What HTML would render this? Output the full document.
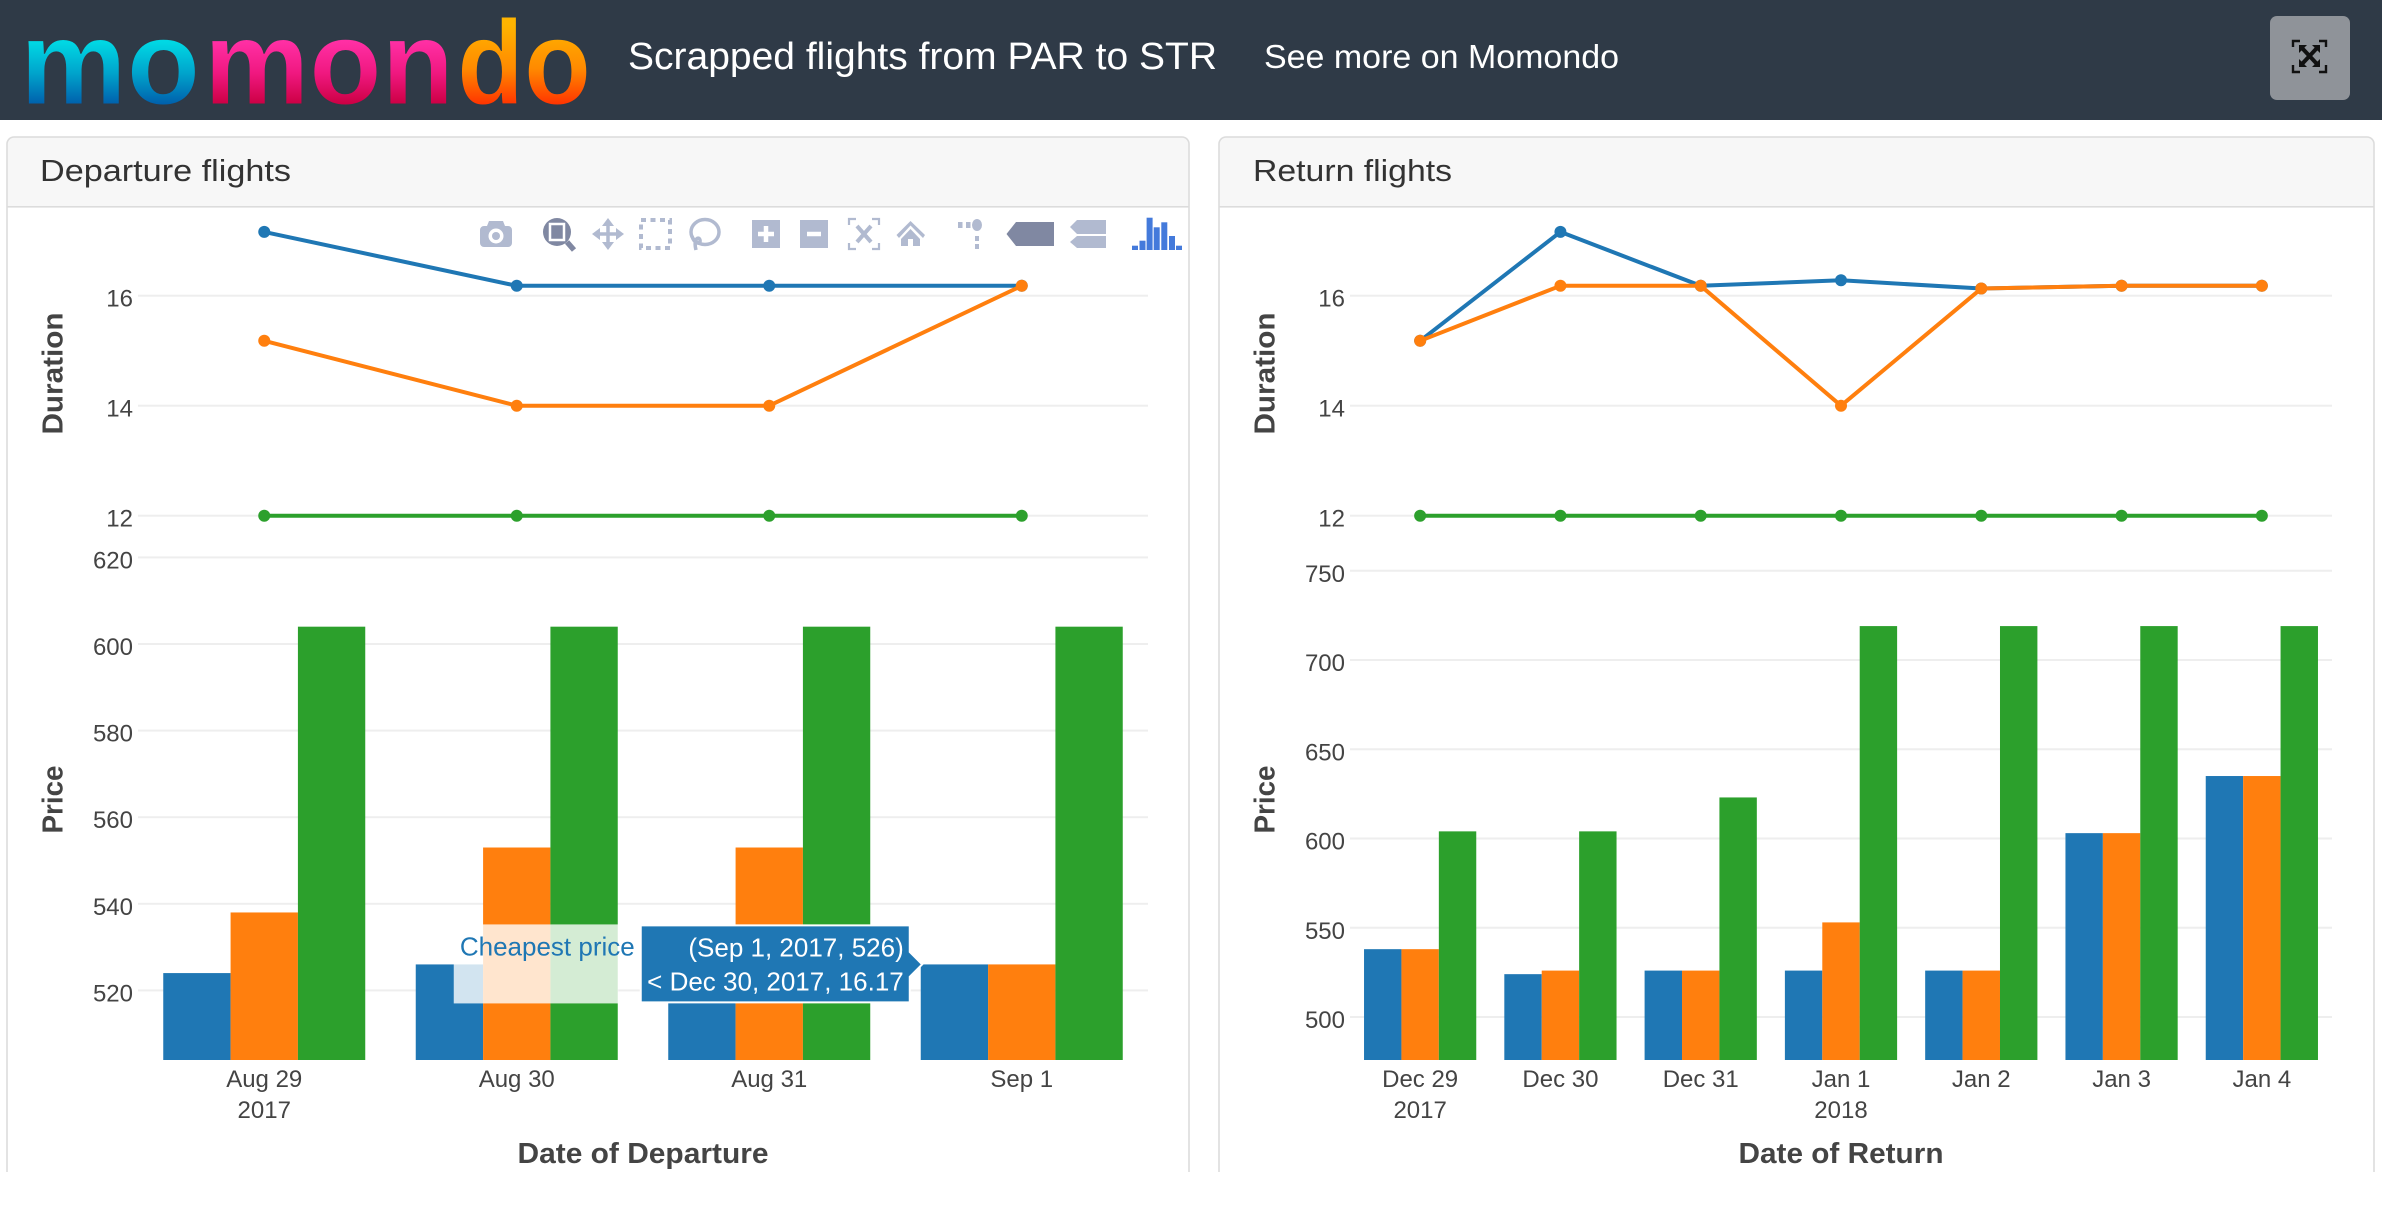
<!DOCTYPE html>
<html lang="en">
<head>
<meta charset="utf-8">
<title>Scrapped flights from PAR to STR</title>
<style>
html,body{margin:0;padding:0;background:#fff;width:2382px;height:1210px;overflow:hidden}
svg{display:block;position:absolute;left:0;top:0}
text{font-family:"Liberation Sans",Arial,sans-serif}
.ic{fill:#b1bad0}
.icd{fill:#8088a2}
</style>
</head>
<body>
<svg id="page" xmlns="http://www.w3.org/2000/svg" width="2382" height="1210" viewBox="0 0 2382 1210">
  <defs>
    <linearGradient id="g-mo" gradientUnits="userSpaceOnUse" x1="0" y1="42" x2="0" y2="104"><stop offset="0" stop-color="#00d8e4"/><stop offset="0.5" stop-color="#00a4cc"/><stop offset="1" stop-color="#0060ac"/></linearGradient>
    <linearGradient id="g-mon" gradientUnits="userSpaceOnUse" x1="0" y1="42" x2="0" y2="104"><stop offset="0" stop-color="#ff2fa4"/><stop offset="0.5" stop-color="#f01880"/><stop offset="1" stop-color="#cc0044"/></linearGradient>
    <linearGradient id="g-do" gradientUnits="userSpaceOnUse" x1="0" y1="25" x2="0" y2="104"><stop offset="0" stop-color="#ffb400"/><stop offset="0.55" stop-color="#ff8a00"/><stop offset="1" stop-color="#ff3500"/></linearGradient>
  </defs>

  <g>
    <rect x="0" y="0" width="2382" height="120" fill="#2f3a47"/>
    <g font-weight="700" font-size="120" stroke="#2f3a47" stroke-width="1" paint-order="fill">
      <text x="20" y="104" textLength="180" lengthAdjust="spacingAndGlyphs" fill="url(#g-mo)">mo</text>
      <text x="204" y="104" textLength="250" lengthAdjust="spacingAndGlyphs" fill="url(#g-mon)">mon</text>
      <text x="457" y="104" textLength="134" lengthAdjust="spacingAndGlyphs" fill="url(#g-do)">do</text>
    </g>
    <text x="628" y="69" font-size="38" fill="#fff" textLength="589" lengthAdjust="spacingAndGlyphs">Scrapped flights from PAR to STR</text>
    <text x="1264" y="68" font-size="33" fill="#fff" textLength="355" lengthAdjust="spacingAndGlyphs">See more on Momondo</text>
    <g>
      <rect x="2270" y="16" width="80" height="84" rx="7" fill="#8f9399"/>
      <g transform="translate(2293 40)" fill="none" stroke="#111">
        <path stroke-width="2.4" d="M0 7V1H7M26 1H33V7M33 25V32H26M7 32H0V25"/>
        <path stroke-width="4" d="M9 8L24 24M24 8L9 24"/>
        <path stroke="none" fill="#111" d="M6 5H14L6 13ZM27 5V13L19 5ZM27 27H19L27 19ZM6 27V19L14 27Z"/>
      </g>
    </g>
  </g>

  <g>
    <path d="M7 207V144a7 7 0 0 1 7-7H1182a7 7 0 0 1 7 7V207Z" fill="#f7f7f7"/>
    <path d="M7 1172V144a7 7 0 0 1 7-7H1182a7 7 0 0 1 7 7V1172" fill="none" stroke="#dcdcdc" stroke-width="1.6"/>
    <rect x="7" y="206" width="1182" height="1.6" fill="#dcdcdc"/>
    <text x="40" y="181" font-size="31" fill="#333" textLength="251" lengthAdjust="spacingAndGlyphs">Departure flights</text>
  </g>

  <g>
    <path d="M1219 207V144a7 7 0 0 1 7-7H2367a7 7 0 0 1 7 7V207Z" fill="#f7f7f7"/>
    <path d="M1219 1172V144a7 7 0 0 1 7-7H2367a7 7 0 0 1 7 7V1172" fill="none" stroke="#dcdcdc" stroke-width="1.6"/>
    <rect x="1219" y="206" width="1155" height="1.6" fill="#dcdcdc"/>
    <text x="1253" y="181" font-size="31" fill="#333" textLength="199" lengthAdjust="spacingAndGlyphs">Return flights</text>
  </g>

  <g id="departure-chart"></g>
  <g id="return-chart"></g>

  <g>
    <g>
      <path class="ic" d="M480 230a4 4 0 0 1 4-4h3l2-5h14l2 5h3a4 4 0 0 1 4 4v13a4 4 0 0 1-4 4H484a4 4 0 0 1-4-4Z"/>
      <circle cx="496" cy="236" r="7.5" fill="#fff"/><circle cx="496" cy="236" r="4" class="ic"/>
    </g>
    <g>
      <path d="M567 242L574 250" stroke="#8088a2" stroke-width="5.5" fill="none"/>
      <circle cx="557" cy="232" r="14" class="icd"/>
      <rect x="550" y="224" width="14" height="16" fill="#8088a2" stroke="#fff" stroke-width="2.5"/>
    </g>
    <g>
      <path d="M608 222V246M596 234H620" stroke="#b1bad0" stroke-width="3.5" fill="none"/>
      <path class="ic" d="M608 218L614 226H602ZM608 250L614 242H602ZM592 234L600 228V240ZM624 234L616 228V240Z"/>
    </g>
    <rect x="641" y="220" width="29" height="28" fill="none" stroke="#b1bad0" stroke-width="4" stroke-dasharray="5 4.5"/>
    <g fill="none" stroke="#b1bad0" stroke-width="3.5">
      <ellipse cx="705" cy="232" rx="14" ry="12.5"/>
      <path d="M692 236C694 244 701 245 700 240C699 236 693 238 696 250"/>
    </g>
    <g>
      <rect class="ic" x="752" y="220" width="28" height="28"/>
      <path d="M766 226V242M758 234H774" stroke="#fff" stroke-width="4.5"/>
    </g>
    <g>
      <rect class="ic" x="800" y="220" width="28" height="28"/>
      <path d="M807 234H821" stroke="#fff" stroke-width="4.5"/>
    </g>
    <g fill="none" stroke="#b1bad0">
      <path stroke-width="2.2" d="M849 225V219H856M872 219H879V225M879 243V249H872M856 249H849V243"/>
      <path stroke-width="4" d="M857 226L871 242M871 226L857 242"/>
    </g>
    <g>
      <path class="ic" d="M910.5 221L925 235L923 238L910.5 225.5L899 238L896.5 235ZM901 239L910.5 229L920 239V246H913V239H908V246H901Z"/>
    </g>
    <g>
      <rect class="ic" x="958" y="222" width="4.5" height="6"/><rect class="ic" x="966" y="222" width="4.5" height="6"/>
      <ellipse class="ic" cx="977" cy="225" rx="5" ry="6"/>
      <rect class="ic" x="975" y="236" width="4" height="5"/><rect class="ic" x="975" y="244" width="4" height="5"/>
    </g>
    <path class="icd" d="M1006.5 234L1016 222H1054V246H1016Z"/>
    <g>
      <path class="ic" d="M1070 227L1077 220H1106V234H1077Z"/>
      <path class="ic" d="M1070 242L1077 236H1106V248H1077Z"/>
    </g>
    <g fill="#447adb">
      <rect x="1132" y="245.7" width="6" height="4.3"/><rect x="1139.5" y="240.7" width="6" height="9.3"/>
      <rect x="1146.6" y="217.7" width="6" height="32.3"/><rect x="1153.7" y="227.3" width="6" height="22.7"/>
      <rect x="1161.3" y="222.3" width="6" height="27.7"/><rect x="1169" y="236" width="6" height="14"/>
      <rect x="1176" y="245.7" width="6" height="4.3"/>
    </g>
  </g>

  <g id="hover-layer"></g>
</svg>

<script>
// ---------- Departure chart data ----------
const depCategories = ['Aug 29', 'Aug 30', 'Aug 31', 'Sep 1'];
const depSubLabels = ['2017', '', '', ''];
const depDurationBlue = [17.16, 16.18, 16.18, 16.18];
const depDurationOrange = [15.18, 14, 14, 16.18];
const depDurationGreen = [12, 12, 12, 12];
const depPriceBlue = [524, 526, 526, 526];
const depPriceOrange = [538, 553, 553, 526];
const depPriceGreen = [604, 604, 604, 604];
const depPriceTicks = [620, 600, 580, 560, 540, 520];

// ---------- Return chart data ----------
const retCategories = ['Dec 29', 'Dec 30', 'Dec 31', 'Jan 1', 'Jan 2', 'Jan 3', 'Jan 4'];
const retSubLabels = ['2017', '', '', '2018', '', '', ''];
const retDurationBlue = [15.18, 17.16, 16.18, 16.28, 16.13, 16.18, 16.18];
const retDurationOrange = [15.18, 16.18, 16.18, 14, 16.13, 16.18, 16.18];
const retDurationGreen = [12, 12, 12, 12, 12, 12, 12];
const retPriceBlue = [538, 524, 526, 526, 526, 603, 635];
const retPriceOrange = [538, 526, 526, 553, 526, 603, 635];
const retPriceGreen = [604, 604, 623, 719, 719, 719, 719];
const retPriceTicks = [750, 700, 650, 600, 550, 500];

const durationTicks = [16, 14, 12];
const seriesColors = ['#1f77b4', '#ff7f0e', '#2ca02c'];
const seriesNames = ['blue', 'orange', 'green'];

// ---------- Hover annotation data ----------
const hoverLabel = 'Cheapest price';
const hoverLineOne = '(Sep 1, 2017, 526)';
const hoverLineTwo = '< Dec 30, 2017, 16.17';
const hoverPrice = 526;

const NS = 'http://www.w3.org/2000/svg';
function mk(parent, tag, attrs, txt) {
  const n = document.createElementNS(NS, tag);
  for (const k in attrs) n.setAttribute(k, attrs[k]);
  if (txt !== undefined) n.textContent = txt;
  parent.appendChild(n);
  return n;
}

const PRICE_BOTTOM = 1060;
function durationY(v) { return 295.7 - 55 * (v - 16); }

function drawChart(root, o) {
  const step = (o.right - o.left) / o.categories.length;
  const xOf = i => o.left + step * (i + 0.5);
  const barW = step * 0.8 / 3;

  durationTicks.forEach(t => {
    const g = mk(root, 'rect', {x: o.left, y: durationY(t) - 1, width: o.right - o.left, height: 2, fill: '#eeeeee'});
    
    
    const l = mk(root, 'text', {x: o.left - 5, y: durationY(t) + 11, 'font-size': 24, fill: '#444', 'text-anchor': 'end'}, String(t));
    
    
  });
  o.priceTicks.forEach(t => {
    const g = mk(root, 'rect', {x: o.left, y: o.priceY(t) - 1, width: o.right - o.left, height: 2, fill: '#eeeeee'});
    
    
    const l = mk(root, 'text', {x: o.left - 5, y: o.priceY(t) + 11, 'font-size': 24, fill: '#444', 'text-anchor': 'end'}, String(t));
    
    
  });

  o.priceSeries.forEach((vals, s) => {
    vals.forEach((v, i) => {
      const top = o.priceY(v);
      const r = mk(root, 'rect', {x: xOf(i) - 1.5 * barW + s * barW, y: top, width: barW, height: PRICE_BOTTOM - top, fill: seriesColors[s]});
      
      
    });
  });

  o.durationSeries.forEach((vals, s) => {
    const pl = mk(root, 'polyline', {points: vals.map((v, i) => xOf(i) + ',' + durationY(v)).join(' '), fill: 'none', stroke: seriesColors[s], 'stroke-width': 4, 'stroke-linejoin': 'round'});
    
    
    vals.forEach((v, i) => {
      const c = mk(root, 'circle', {cx: xOf(i), cy: durationY(v), r: 6, fill: seriesColors[s]});
      
      
    });
  });

  o.categories.forEach((c, i) => {
    const t = mk(root, 'text', {x: xOf(i), y: 1087, 'font-size': 24, fill: '#444', 'text-anchor': 'middle'}, c);
    
    
    if (o.subLabels[i]) {
      const t2 = mk(root, 'text', {x: xOf(i), y: 1118, 'font-size': 24, fill: '#444', 'text-anchor': 'middle'}, o.subLabels[i]);
      
      
    }
  });

  const bx = o.left - 75.7;
  const dt = mk(root, 'text', {transform: 'translate(' + bx + ' 373.5) rotate(-90)', 'font-size': 29, 'font-weight': 700, fill: '#444', 'text-anchor': 'middle', textLength: 122, lengthAdjust: 'spacingAndGlyphs'}, 'Duration');
  
  
  const pt = mk(root, 'text', {transform: 'translate(' + bx + ' 799.5) rotate(-90)', 'font-size': 29, 'font-weight': 700, fill: '#444', 'text-anchor': 'middle', textLength: 68, lengthAdjust: 'spacingAndGlyphs'}, 'Price');
  
  
  const xt = mk(root, 'text', {x: (o.left + o.right) / 2, y: 1163, 'font-size': 29, 'font-weight': 700, fill: '#444', 'text-anchor': 'middle', textLength: o.xTitleWidth, lengthAdjust: 'spacingAndGlyphs'}, o.xTitle);
  
  

  return {xOf, barW};
}

function depPriceY(v) { return 990.4 - 4.33 * (v - 520); }
function retPriceY(v) { return 1017 - 1.785 * (v - 500); }

const depAxes = drawChart(document.getElementById('departure-chart'), {
  left: 138, right: 1148,
  categories: depCategories, subLabels: depSubLabels,
  priceTicks: depPriceTicks, priceY: depPriceY,
  priceSeries: [depPriceBlue, depPriceOrange, depPriceGreen],
  durationSeries: [depDurationBlue, depDurationOrange, depDurationGreen],
  xTitle: 'Date of Departure', xTitleWidth: 251
});

drawChart(document.getElementById('return-chart'), {
  left: 1350, right: 2332,
  categories: retCategories, subLabels: retSubLabels,
  priceTicks: retPriceTicks, priceY: retPriceY,
  priceSeries: [retPriceBlue, retPriceOrange, retPriceGreen],
  durationSeries: [retDurationBlue, retDurationOrange, retDurationGreen],
  xTitle: 'Date of Return', xTitleWidth: 205
});

// ---------- Hover tooltip, anchored to the hovered bar ----------
const hover = document.getElementById('hover-layer');
const tipX = depAxes.xOf(3) - 1.5 * depAxes.barW;
const tipY = depPriceY(hoverPrice);

const labelBox = mk(hover, 'rect', {x: tipX - 467, y: tipY - 40, width: 164.5, height: 79, fill: '#fff', 'fill-opacity': 0.8});



const labelText = mk(hover, 'text', {x: tipX - 286, y: tipY - 9, 'font-size': 26, fill: '#1f77b4', 'text-anchor': 'end'}, hoverLabel);



const tipPath = 'M' + tipX + ' ' + tipY + 'l-12 -12v-26h-267v75h267v-25Z';
const tipBox = mk(hover, 'path', {d: tipPath, fill: '#1f77b4', stroke: '#fff', 'stroke-width': 4, 'paint-order': 'stroke'});



const tipOne = mk(hover, 'text', {x: tipX - 17, y: tipY - 8, 'font-size': 26, fill: '#fff', 'text-anchor': 'end'}, hoverLineOne);



const tipTwo = mk(hover, 'text', {x: tipX - 17, y: tipY + 26, 'font-size': 26, fill: '#fff', 'text-anchor': 'end'}, hoverLineTwo);


</script>
</body>
</html>
